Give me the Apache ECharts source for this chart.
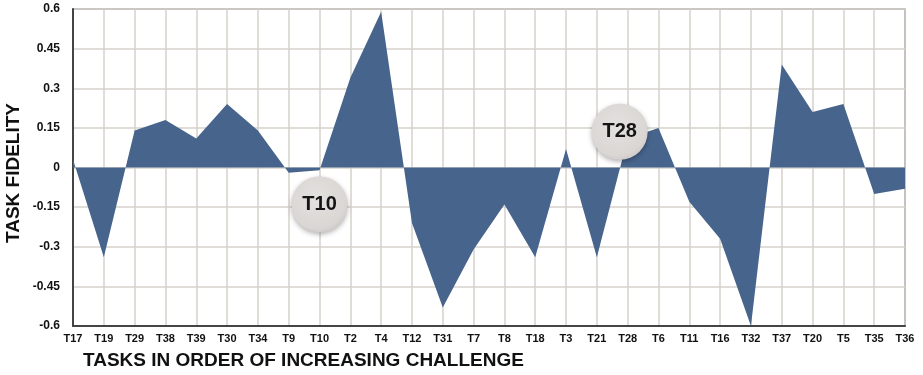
<!DOCTYPE html>
<html>
<head>
<meta charset="utf-8">
<script src="https://cdn.jsdelivr.net/npm/echarts@6/dist/echarts.min.js"></script>
<style>
html,body{margin:0;padding:0;background:#fff;}
#chart{width:923px;height:375px;}
</style>
</head>
<body>
<div id="chart"></div>
<script>
const categories = ['T17','T19','T29','T38','T39','T30','T34','T9','T10','T2','T4','T12','T31','T7','T8','T18','T3','T21','T28','T6','T11','T16','T32','T37','T20','T5','T35','T36'];
const fidelity = [0.03,-0.34,0.14,0.18,0.11,0.24,0.14,-0.02,-0.01,0.34,0.59,-0.21,-0.53,-0.31,-0.14,-0.34,0.07,-0.34,0.11,0.15,-0.13,-0.27,-0.6,0.39,0.21,0.24,-0.1,-0.08];
const yTicks = [-0.6,-0.45,-0.3,-0.15,0,0.15,0.3,0.45,0.6];
const annoLabels = ['T10','T28'];
const annoCats = ['T10','T28'];
const annoValues = [-0.14,0.135];
const annoOffsetX = [0,-8];

const font = '"Liberation Sans", Arial, Helvetica, sans-serif';
const chart = echarts.init(document.getElementById('chart'), null, {renderer:'canvas'});
chart.setOption({
  animation:false,
  backgroundColor:'#ffffff',
  grid:{left:73,right:18,top:9,bottom:49,show:true,borderColor:'#555',borderWidth:1.2,backgroundColor:'transparent'},
  xAxis:{
    type:'category',data:categories,boundaryGap:false,
    axisLine:{show:true,onZero:false,lineStyle:{color:'#444',width:2}},
    axisTick:{show:false},
    axisLabel:{interval:0,margin:7,fontFamily:font,fontWeight:'bold',fontSize:11,color:'#111'},
    splitLine:{show:true,interval:0,lineStyle:{color:'#d6d0cb',width:1.5}}
  },
  yAxis:{
    type:'value',min:yTicks[0],max:yTicks[yTicks.length-1],interval:0.15,
    axisLine:{show:true,lineStyle:{color:'#444',width:2}},
    axisTick:{show:false},
    axisLabel:{margin:13,fontFamily:font,fontWeight:'bold',fontSize:12,color:'#111',
      formatter:v=>{const r=Math.round(v*100)/100;return String(r);}},
    splitLine:{show:true,lineStyle:{color:'#d6d0cb',width:1.5}}
  },
  graphic:[
    {type:'text',left:83,top:351,style:{text:'TASKS IN ORDER OF INCREASING CHALLENGE',font:'bold 19px '+font,fill:'#111'}},
    {type:'text',x:14,y:173,rotation:Math.PI/2,style:{text:'TASK FIDELITY',font:'bold 19px '+font,fill:'#111',align:'center',verticalAlign:'middle'}}
  ],
  series:[{
    type:'line',data:fidelity,symbol:'none',
    lineStyle:{width:0,color:'#47648c'},
    areaStyle:{color:'#47648c',opacity:1},
    markPoint:{
      symbol:'circle',symbolSize:56,
      itemStyle:{
        color:{type:'radial',x:0.45,y:0.4,r:0.65,colorStops:[{offset:0,color:'#e4e2e0'},{offset:0.8,color:'#d9d6d3'},{offset:1,color:'#cbc7c4'}]},
        shadowBlur:5,shadowColor:'rgba(0,0,0,0.3)',shadowOffsetY:2
      },
      label:{show:true,formatter:p=>p.name,fontFamily:font,fontWeight:'bold',fontSize:20,color:'#151515'},
      data:annoLabels.map((n,i)=>({name:n,coord:[annoCats[i],annoValues[i]],symbolOffset:[annoOffsetX[i],0]}))
    }
  }]
});
</script>
</body>
</html>
